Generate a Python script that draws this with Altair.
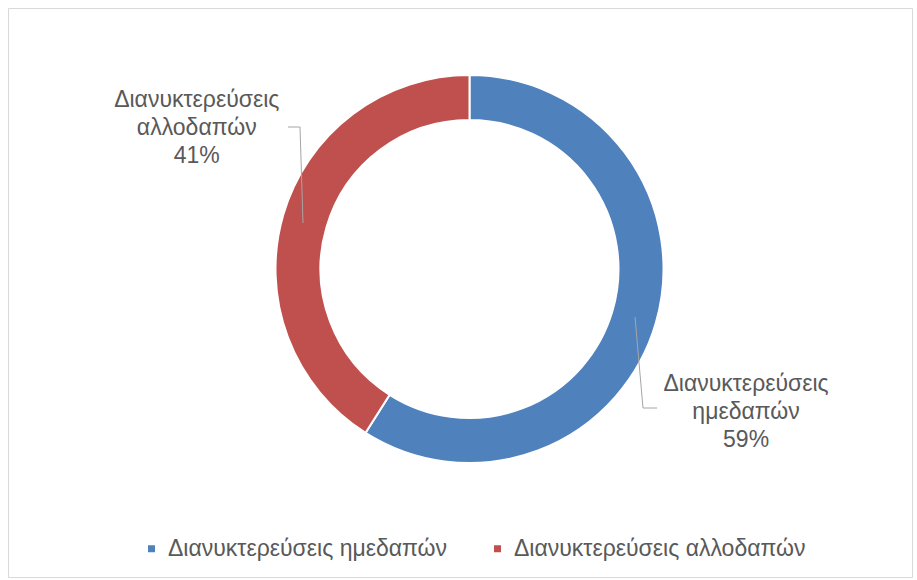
import altair as alt
import pandas as pd

categories = ["Διανυκτερεύσεις ημεδαπών", "Διανυκτερεύσεις αλλοδαπών"]
shares = [59, 41]
colors = ["#4f81bd", "#c0504d"]
order = [0, 1]

FONT = "Liberation Sans"
FS = 23
TXT = "#595959"
LEAD = "#a6a6a6"

df = pd.DataFrame({
    "cat": categories,
    "share": shares,
    "ord": order,
    "label": [c.replace(" ", "\n") + f"\n{s}%" for c, s in zip(categories, shares)],
})

W, H = 904, 569
CX, CY = 461.5, 261

base = alt.Chart(df)

color = alt.Color(
    "cat:N",
    scale=alt.Scale(domain=categories, range=colors),
    legend=alt.Legend(
        title=None, orient="none", legendX=132, legendY=529,
        direction="horizontal", symbolType="square", symbolSize=49,
        symbolStrokeWidth=0, labelFontSize=FS, labelColor=TXT, labelFont=FONT,
        labelOffset=5, columnPadding=38, labelLimit=500,
    ),
    sort=categories,
)

arc = base.mark_arc(outerRadius=194, innerRadius=149, stroke="white", strokeWidth=2).encode(
    theta=alt.Theta("share:Q", stack=True),
    color=color,
    order=alt.Order("ord:Q"),
    x=alt.value(CX),
    y=alt.value(CY),
)

mid = base.transform_window(
    cum="sum(share)", sort=[alt.SortField("ord", order="ascending")], frame=[None, 0]
).transform_calculate(mid="datum.cum - datum.share / 2")

theta_mid = alt.Theta("mid:Q", stack=False, scale=alt.Scale(domain=[0, 100]))


def label_layer(o, radius, dy):
    return mid.transform_filter(alt.datum.ord == o).mark_text(
        radius=radius, dy=dy, fontSize=FS, lineHeight=28, color=TXT, font=FONT,
        align="center", baseline="middle", lineBreak="\n",
    ).encode(theta=theta_mid, text="label:N", x=alt.value(CX), y=alt.value(CY))


txt_blue = label_layer(0, 288, 35)
txt_red = label_layer(1, 284, -90)

one = alt.Chart(pd.DataFrame({"k": [0]}))


def seg(x1, y1, x2, y2):
    return one.mark_rule(color=LEAD, strokeWidth=1).encode(
        x=alt.value(x1), y=alt.value(y1), x2=alt.value(x2), y2=alt.value(y2)
    )


leaders = [
    seg(280, 119, 292, 119), seg(292, 119, 295, 215),
    seg(627, 309, 635, 400), seg(635, 400, 649, 400),
]

chart = alt.layer(arc, txt_blue, txt_red, *leaders).properties(
    width=W, height=H,
    padding={"left": 8, "top": 8, "right": 5, "bottom": 3},
    autosize="none",
    background="white",
).configure_view(stroke="#d9d9d9", strokeWidth=1)

chart.save("out.html", embed_options={"renderer": "svg", "actions": False})
